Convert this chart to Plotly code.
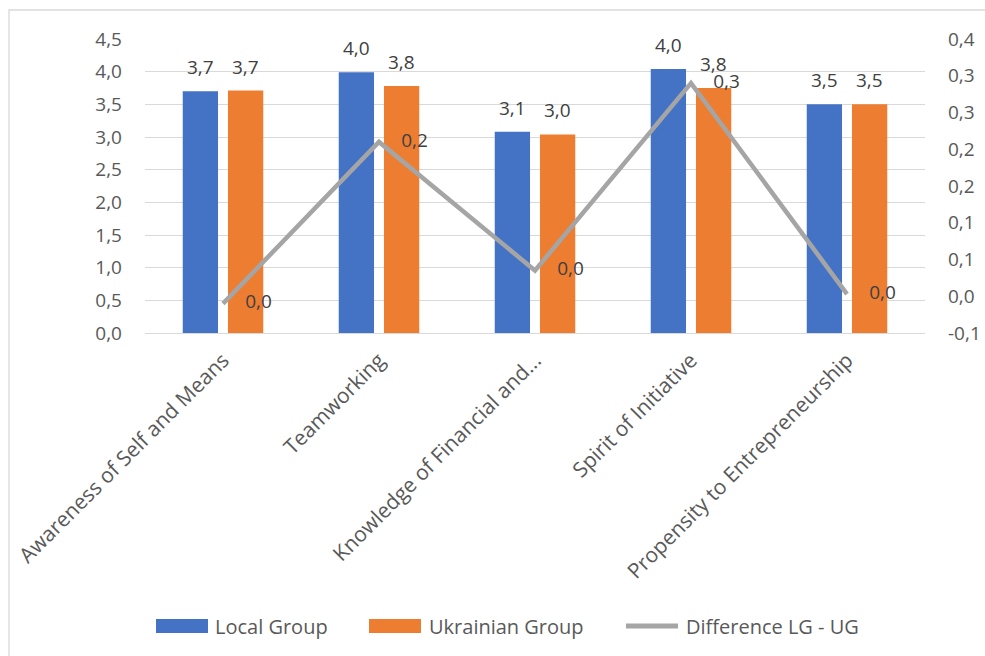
from decimal import Decimal, ROUND_HALF_UP
import plotly.graph_objects as go

# Skill scores per competence area
categories = [
    "Awareness of Self and Means",
    "Teamworking",
    "Knowledge of Financial and...",
    "Spirit of Initiative",
    "Propensity to Entrepreneurship",
]
local_group = [3.70, 3.99, 3.08, 4.04, 3.50]
ukrainian_group = [3.71, 3.78, 3.04, 3.75, 3.50]
difference = [-0.01, 0.21, 0.035, 0.29, 0.003]

left_ticks = [0.0, 0.5, 1.0, 1.5, 2.0, 2.5, 3.0, 3.5, 4.0, 4.5]
right_ticks = [-0.05, 0.0, 0.05, 0.10, 0.15, 0.20, 0.25, 0.30, 0.35]

BLUE = "#4472C4"
ORANGE = "#ED7D31"
GREY = "#A5A5A5"
GRID = "#D9D9D9"
AXIS_TXT = "#595959"
LABEL_TXT = "#404040"
FONT = "Open Sans"


def fmt1(v):
    """One decimal, half-up rounding, comma decimal separator."""
    d = Decimal(str(v)).quantize(Decimal("0.1"), rounding=ROUND_HALF_UP)
    if d == 0:
        d = abs(d)
    return str(d).replace(".", ",")


W, H = 985, 656
ML, MR, MT, MB = 145, 60, 39, 323
PW, PH = W - ML - MR, H - MT - MB
BARGAP, GROUPGAP = 0.42, 0.22


def px(x):
    return (x - ML) / PW


def py(y):
    return (H - MB - y) / PH


fig = go.Figure()

fig.add_trace(go.Bar(
    x=categories, y=local_group, name="Local Group",
    marker=dict(color=BLUE, line=dict(width=0)), showlegend=False,
))
fig.add_trace(go.Bar(
    x=categories, y=ukrainian_group, name="Ukrainian Group",
    marker=dict(color=ORANGE, line=dict(width=0)), showlegend=False,
))
fig.add_trace(go.Scatter(
    x=categories, y=difference, name="Difference LG - UG", yaxis="y2",
    mode="lines+markers+text",
    line=dict(color=GREY, width=4.5),
    marker=dict(size=34, color="rgba(0,0,0,0)"),
    text=[fmt1(v) for v in difference], textposition="middle right",
    textfont=dict(family=FONT, size=19, color=LABEL_TXT),
    cliponaxis=False, showlegend=False,
))

annotations = []

# Value labels above each bar (offset to the centre of the bar within its group)
slot = PW / len(categories) * (1 - BARGAP) / 2
for series, sign in ((local_group, -1), (ukrainian_group, 1)):
    for cat, val in zip(categories, series):
        annotations.append(dict(
            x=cat, y=val, xref="x", yref="y", showarrow=False,
            text=fmt1(val), xanchor="center", yanchor="middle",
            xshift=sign * slot / 2, yshift=24,
            font=dict(family=FONT, size=19, color=LABEL_TXT),
        ))

# Outer chart border
shapes = [dict(type="rect", xref="paper", yref="paper",
               x0=px(9), x1=px(1100), y0=py(10), y1=py(800),
               line=dict(color=GRID, width=1.3), fillcolor="rgba(0,0,0,0)",
               layer="below")]

# Legend row
legend_y = 626
legend_items = [
    ("rect", BLUE, 156, 208, "Local Group", 213),
    ("rect", ORANGE, 369, 421, "Ukrainian Group", 427),
    ("line", GREY, 626, 678, "Difference LG - UG", 684),
]
for kind, color, x0, x1, label, tx in legend_items:
    if kind == "rect":
        shapes.append(dict(type="rect", xref="paper", yref="paper",
                           x0=px(x0), x1=px(x1), y0=py(legend_y + 7), y1=py(legend_y - 7),
                           fillcolor=color, line=dict(width=0)))
    else:
        shapes.append(dict(type="line", xref="paper", yref="paper",
                           x0=px(x0), x1=px(x1), y0=py(legend_y), y1=py(legend_y),
                           line=dict(color=color, width=5)))
    annotations.append(dict(xref="paper", yref="paper", x=px(tx), y=py(legend_y),
                            xanchor="left", yanchor="middle", showarrow=False,
                            text=label, font=dict(family=FONT, size=20, color=AXIS_TXT)))

fig.update_layout(
    width=W, height=H,
    margin=dict(l=ML, r=MR, t=MT, b=MB),
    paper_bgcolor="white", plot_bgcolor="white",
    barmode="group", bargap=BARGAP, bargroupgap=GROUPGAP,
    font=dict(family=FONT, color=AXIS_TXT),
    xaxis=dict(
        type="category", tickangle=-45, showgrid=False, showline=False,
        ticks="", automargin=False, ticklabelstandoff=10,
        tickfont=dict(family=FONT, size=21, color=AXIS_TXT),
    ),
    yaxis=dict(
        range=[0, 4.5], tickvals=left_ticks, ticktext=[fmt1(v) for v in left_ticks],
        showgrid=True, gridcolor=GRID, gridwidth=1.3,
        zeroline=True, zerolinecolor=GRID, zerolinewidth=1.3,
        showline=False, ticks="", ticklabelstandoff=22, automargin=False,
        tickfont=dict(family=FONT, size=19, color=AXIS_TXT),
    ),
    yaxis2=dict(
        overlaying="y", side="right", range=[-0.05, 0.35],
        tickvals=right_ticks, ticktext=[fmt1(v) for v in right_ticks],
        showgrid=False, zeroline=False, showline=False, ticks="",
        ticklabelstandoff=22, automargin=False,
        tickfont=dict(family=FONT, size=19, color=AXIS_TXT),
    ),
    shapes=shapes,
    annotations=annotations,
)

fig.write_html("out.html")
